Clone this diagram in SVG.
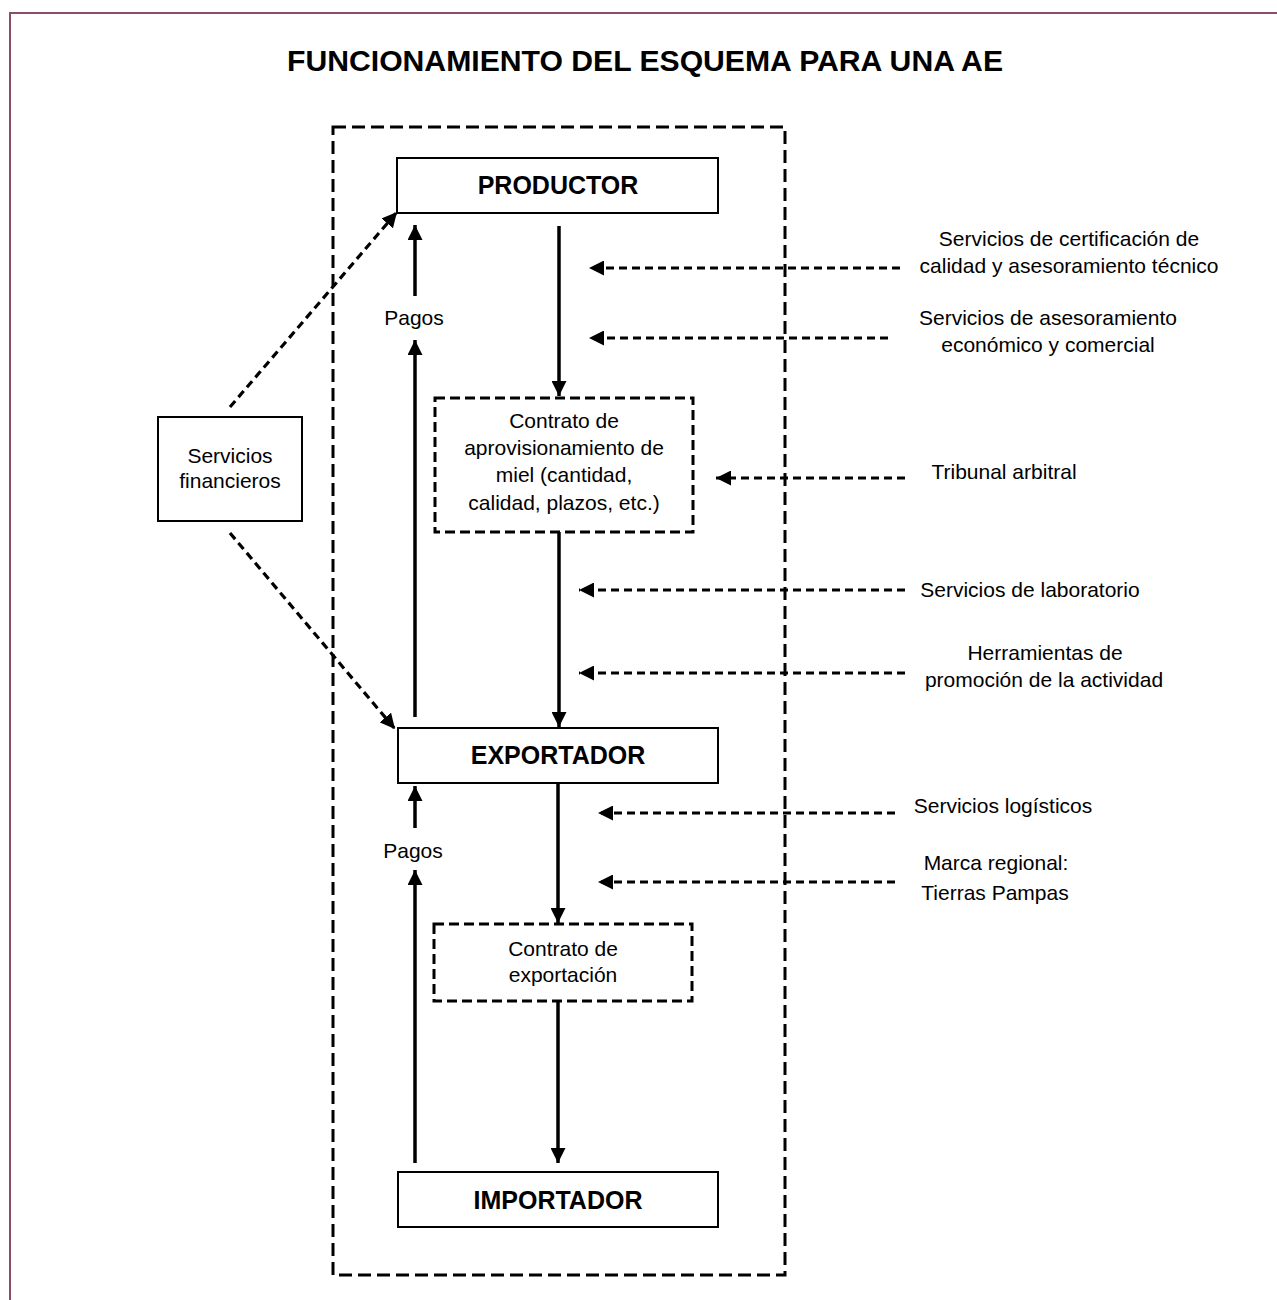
<svg xmlns="http://www.w3.org/2000/svg" width="1277" height="1300" viewBox="0 0 1277 1300">
<defs>
<style>
text{font-family:"Liberation Sans",Arial,sans-serif;fill:#000}
.t{font-size:21px;text-anchor:middle}
.b{font-size:25px;font-weight:bold;text-anchor:middle}
.box{fill:#fff;stroke:#000;stroke-width:2}
.dbox{fill:#fff;stroke:#000;stroke-width:3;stroke-dasharray:10 5}
.solid{stroke:#000;stroke-width:3.5;fill:none}
.dash{stroke:#000;stroke-width:3.2;fill:none;stroke-dasharray:8 5}
</style>
<marker id="ah" viewBox="0 0 10 10" refX="10" refY="5" markerWidth="15" markerHeight="15" markerUnits="userSpaceOnUse" orient="auto">
<path d="M0,0 L10,5 L0,10 Z" fill="#000"/>
</marker>
<marker id="ah2" viewBox="0 0 10 10" refX="10" refY="5" markerWidth="15" markerHeight="15" markerUnits="userSpaceOnUse" orient="auto">
<path d="M0,0 L10,5 L0,10 Z" fill="#000"/>
</marker>
</defs>
<rect x="0" y="0" width="1277" height="1300" fill="#fff"/>
<rect x="10" y="13" width="1300" height="1320" fill="none" stroke="#8a4d6c" stroke-width="2"/>
<text x="645" y="71" font-size="29" font-weight="bold" text-anchor="middle" textLength="716" lengthAdjust="spacingAndGlyphs">FUNCIONAMIENTO DEL ESQUEMA PARA UNA AE</text>

<g id="marco">
<rect x="333" y="127" width="452" height="1148" fill="none" stroke="#000" stroke-width="3" stroke-dasharray="13 6"/>
</g>

<g id="connectors">
<line class="solid" x1="559" y1="226" x2="559" y2="396" marker-end="url(#ah)"/>
<line class="solid" x1="559" y1="532" x2="559" y2="727" marker-end="url(#ah)"/>
<line class="solid" x1="558" y1="783" x2="558" y2="923" marker-end="url(#ah)"/>
<line class="solid" x1="558" y1="1001" x2="558" y2="1163" marker-end="url(#ah)"/>
<line class="solid" x1="415" y1="296" x2="415" y2="225" marker-end="url(#ah)"/>
<line class="solid" x1="415" y1="717" x2="415" y2="340" marker-end="url(#ah)"/>
<line class="solid" x1="415" y1="828" x2="415" y2="786" marker-end="url(#ah)"/>
<line class="solid" x1="415" y1="1163" x2="415" y2="870" marker-end="url(#ah)"/>
<line class="dash" x1="230" y1="407" x2="397" y2="212" marker-end="url(#ah2)"/>
<line class="dash" x1="230" y1="533" x2="395" y2="729" marker-end="url(#ah2)"/>
<line class="dash" x1="900" y1="268" x2="589" y2="268" marker-end="url(#ah2)"/>
<line class="dash" x1="888" y1="338" x2="589" y2="338" marker-end="url(#ah2)"/>
<line class="dash" x1="905" y1="478" x2="716" y2="478" marker-end="url(#ah2)"/>
<line class="dash" x1="905" y1="590" x2="579" y2="590" marker-end="url(#ah2)"/>
<line class="dash" x1="905" y1="673" x2="579" y2="673" marker-end="url(#ah2)"/>
<line class="dash" x1="895" y1="813" x2="598" y2="813" marker-end="url(#ah2)"/>
<line class="dash" x1="895" y1="882" x2="598" y2="882" marker-end="url(#ah2)"/>
</g>

<g id="productor">
<rect class="box" x="397" y="158" width="321" height="55"/>
<text class="b" x="558" y="194">PRODUCTOR</text>
</g>
<g id="exportador">
<rect class="box" x="398" y="728" width="320" height="55"/>
<text class="b" x="558" y="764">EXPORTADOR</text>
</g>
<g id="importador">
<rect class="box" x="398" y="1172" width="320" height="55"/>
<text class="b" x="558" y="1209">IMPORTADOR</text>
</g>
<g id="contrato-aprovisionamiento">
<rect class="dbox" x="435" y="398" width="258" height="134"/>
<text class="t" x="564" y="428">Contrato de</text>
<text class="t" x="564" y="455">aprovisionamiento de</text>
<text class="t" x="564" y="482">miel (cantidad,</text>
<text class="t" x="564" y="510">calidad, plazos, etc.)</text>
</g>
<g id="contrato-exportacion">
<rect class="dbox" x="434" y="924" width="258" height="77"/>
<text class="t" x="563" y="956">Contrato de</text>
<text class="t" x="563" y="982">exportación</text>
</g>
<g id="servicios-financieros">
<rect class="box" x="158" y="417" width="144" height="104"/>
<text class="t" x="230" y="463">Servicios</text>
<text class="t" x="230" y="488">financieros</text>
</g>
<g id="pagos-1"><text class="t" x="414" y="325">Pagos</text></g>
<g id="pagos-2"><text class="t" x="413" y="858">Pagos</text></g>

<g id="certificacion">
<text class="t" x="1069" y="246">Servicios de certificación de</text>
<text class="t" x="1069" y="273">calidad y asesoramiento técnico</text>
</g>
<g id="asesoramiento">
<text class="t" x="1048" y="325">Servicios de asesoramiento</text>
<text class="t" x="1048" y="352">económico y comercial</text>
</g>
<g id="tribunal"><text class="t" x="1004" y="479">Tribunal arbitral</text></g>
<g id="laboratorio"><text class="t" x="1030" y="597">Servicios de laboratorio</text></g>
<g id="herramientas">
<text class="t" x="1045" y="660">Herramientas de</text>
<text class="t" x="1044" y="687">promoción de la actividad</text>
</g>
<g id="logisticos"><text class="t" x="1003" y="813">Servicios logísticos</text></g>
<g id="marca">
<text class="t" x="996" y="870">Marca regional:</text>
<text class="t" x="995" y="900">Tierras Pampas</text>
</g>
</svg>
